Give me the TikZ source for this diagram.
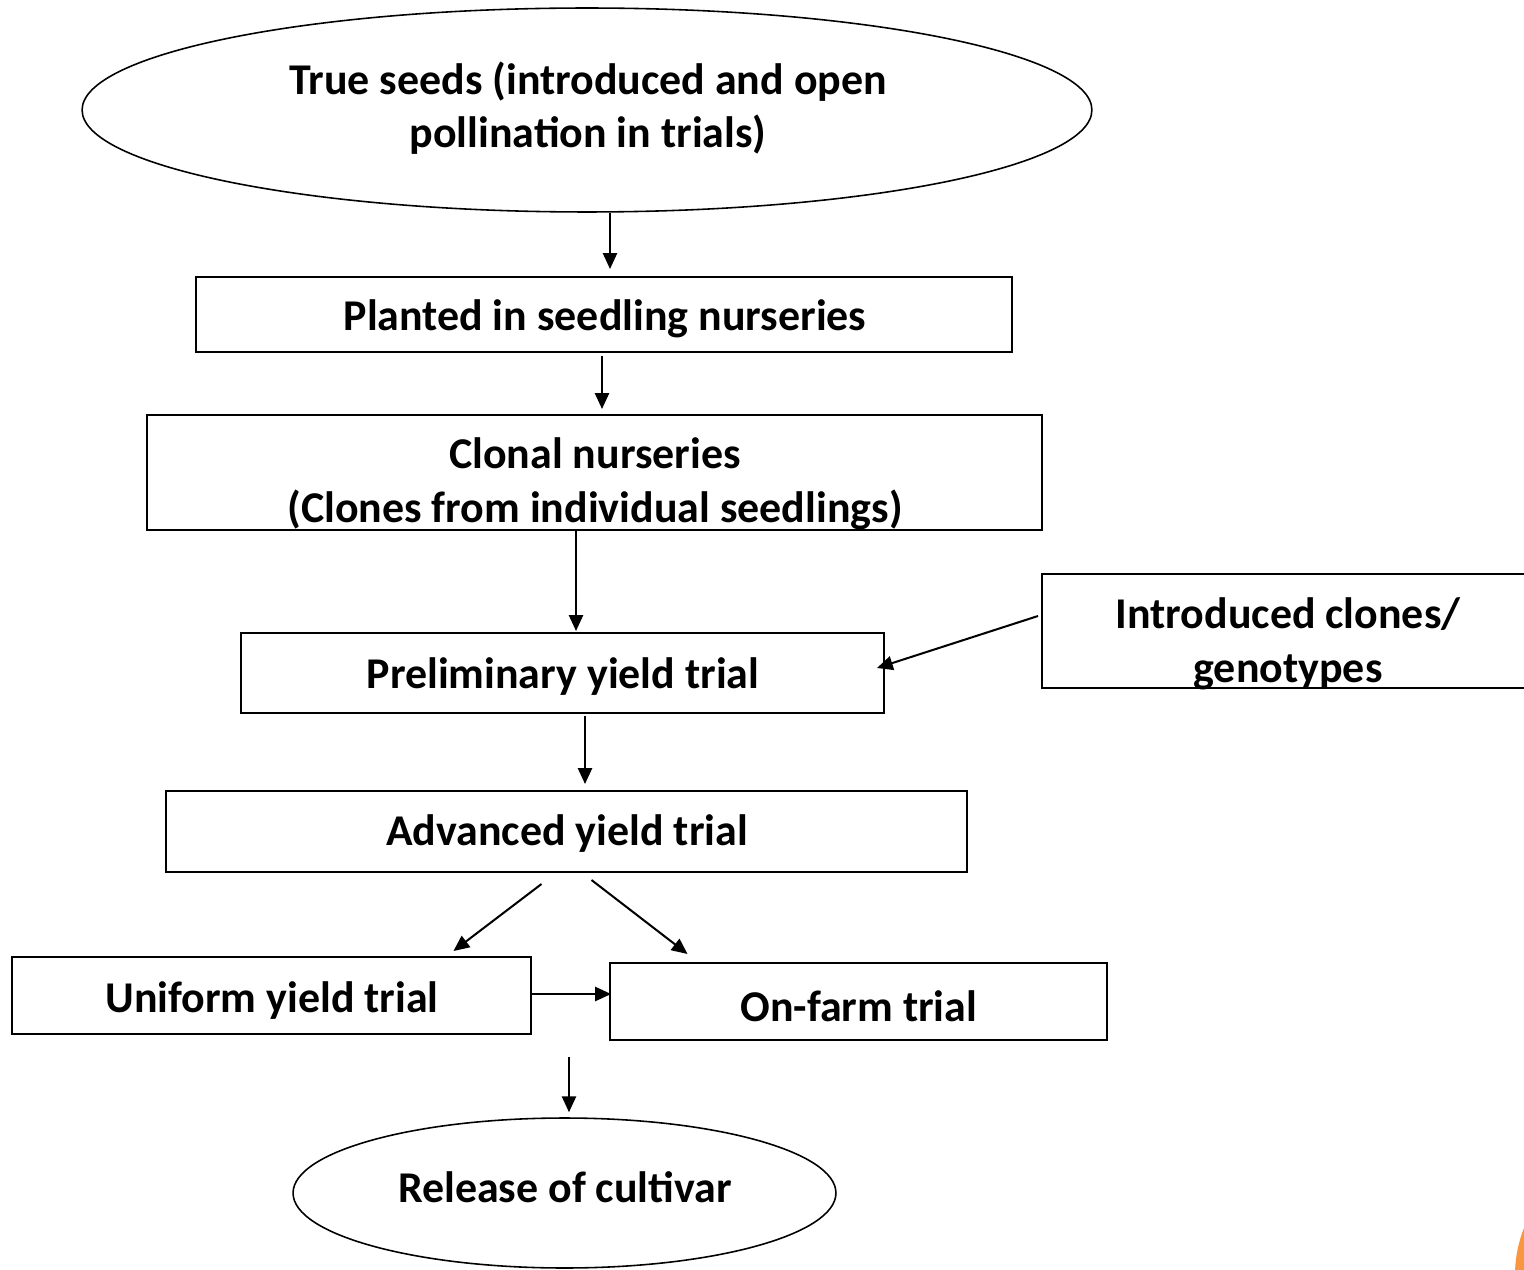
\documentclass[tikz,border=0pt]{standalone}
\usepackage{fontspec}
\setmainfont{Carlito}
\usetikzlibrary{shapes.geometric,arrows.meta}
\begin{document}
\begin{tikzpicture}[x=0.02cm,y=-0.02cm,
  boxed/.style={draw,line width=1.15pt,rectangle,inner sep=0pt},
  oval/.style={draw,line width=0.9pt,ellipse,inner sep=0pt},
  lbl/.style={font=\bfseries\fontsize{25}{30.5}\selectfont,align=center,inner sep=0pt},
  arr/.style={line width=1.15pt,-{Triangle[length=9pt,width=8pt]}}]
\useasboundingbox (0,0) rectangle (1524,1270);
% orange decoration
\fill[fill={rgb,255:red,248;green,150;blue,66}] (1642,1275) circle (127);
% ellipses
\node[oval,minimum width=20.2cm,minimum height=4.08cm] (seeds) at (587,110) {};
\node[lbl] (seeds-t) at (588,108) {True seeds (introduced and open\\pollination in trials)};
\node[oval,minimum width=10.86cm,minimum height=3.0cm] (release) at (564.5,1193) {};
\node[lbl] (release-t) at (565,1187) {Release of cultivar};
% boxes
\node[boxed,minimum width=16.32cm,minimum height=1.5cm] (plant) at (604,314.5) {};
\node[lbl] (plant-t) at (605,319) {Planted in seedling nurseries};
\node[boxed,minimum width=17.9cm,minimum height=2.3cm] (clonal) at (594.5,472.5) {};
\node[lbl] (clonal-t) at (595,484) {Clonal nurseries\\(Clones from individual seedlings)};
\node[boxed,minimum width=12.86cm,minimum height=1.6cm] (prelim) at (562.5,673) {};
\node[lbl] (prelim-t) at (563,677) {Preliminary yield trial};
\node[boxed,minimum width=10cm,minimum height=2.28cm,anchor=north west] (intro) at (1041,573) {};
\node[lbl] (intro-t) at (1288,644) {Introduced clones/\\genotypes};
\node[boxed,minimum width=16.02cm,minimum height=1.62cm] (adv) at (566.5,831.5) {};
\node[lbl] (adv-t) at (567,834) {Advanced yield trial};
\node[boxed,minimum width=10.38cm,minimum height=1.54cm] (uniform) at (271.5,995.5) {};
\node[lbl] (uniform-t) at (272,1001) {Uniform yield trial};
\node[boxed,minimum width=9.94cm,minimum height=1.54cm] (onfarm) at (858.5,1001.5) {};
\node[lbl] (onfarm-t) at (859,1006) {On-farm trial};
% arrow x-positions
\coordinate (c1) at (610,0);
\coordinate (c2) at (602,0);
\coordinate (c3) at (576,0);
\coordinate (c5) at (585,0);
\coordinate (c9) at (569,0);
% connectors
\draw[arr] (seeds.south -| c1) -- ([yshift=0.14cm]plant.north -| c1);
\draw[arr] ([yshift=-0.06cm]plant.south -| c2) -- ([yshift=0.1cm]clonal.north -| c2);
\draw[arr] (clonal.south -| c3) -- ([yshift=0.02cm]prelim.north -| c3);
\draw[arr] ([yshift=0.3cm,xshift=-0.06cm]intro.west) -- ([yshift=0.1cm,xshift=-0.16cm]prelim.east);
\draw[arr] ([yshift=-0.04cm]prelim.south -| c5) -- ([yshift=0.12cm]adv.north -| c5);
\draw[arr] ([yshift=-0.22cm,xshift=-0.5cm]adv.south) -- ([yshift=0.1cm,xshift=3.64cm]uniform.north);
\draw[arr] ([yshift=-0.14cm,xshift=0.5cm]adv.south) -- ([yshift=0.16cm,xshift=-3.42cm]onfarm.north);
\draw[arr] ([yshift=0.03cm]uniform.east) -- ([yshift=0.03cm,xshift=0.04cm]uniform.east -| onfarm.west);
\draw[arr] ([yshift=-0.32cm]onfarm.south -| c9) -- ([yshift=0.1cm]release.north -| c9);
\end{tikzpicture}
\end{document}
